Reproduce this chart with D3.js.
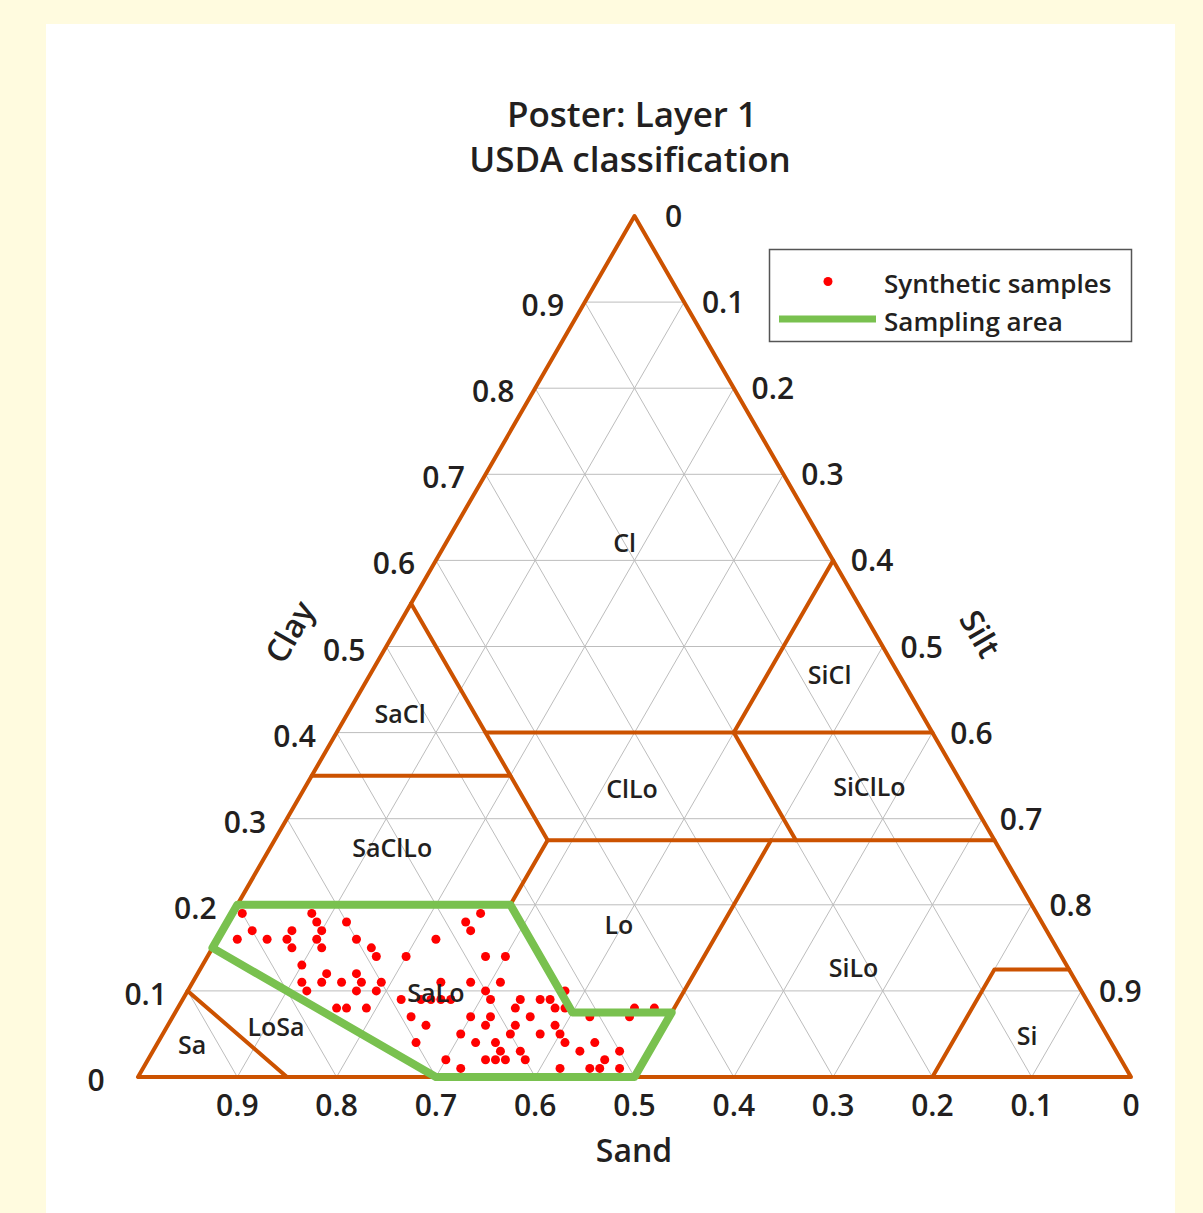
<!DOCTYPE html>
<html>
<head>
<meta charset="utf-8">
<script src="https://cdn.jsdelivr.net/npm/d3@7"></script>
<style>
body { margin: 0; background: #fffbdf; font-family: "Open Sans", sans-serif; }
svg text { font-weight: 600; }
</style>
</head>
<body>
<div id="plot"></div>
<script>
var svgWidth = 1203, svgHeight = 1213;
var triLeft = 138, triRight = 1131, triBottom = 1077, triTop = 216;

// tick values shown on each side
var tickVals = [0, 0.1, 0.2, 0.3, 0.4, 0.5, 0.6, 0.7, 0.8, 0.9];
var gridVals = [0.1, 0.2, 0.3, 0.4, 0.5, 0.6, 0.7, 0.8, 0.9];

// USDA class names and where they are written (sand, silt, clay)
var classNames = ["Cl", "SaCl", "ClLo", "SiCl", "SiClLo", "SaClLo", "Lo", "SiLo", "SaLo", "LoSa", "Sa", "Si"];
var classSand = [0.20, 0.525, 0.335, 0.07, 0.095, 0.611, 0.4275, 0.216, 0.651, 0.832, 0.927, 0.081];
var classSilt = [0.18, 0.053, 0.33, 0.463, 0.568, 0.123, 0.396, 0.657, 0.251, 0.11, 0.036, 0.8715];
var classClay = [0.62, 0.422, 0.335, 0.467, 0.337, 0.266, 0.1765, 0.127, 0.098, 0.058, 0.037, 0.0476];

// class boundaries, each a list of [sand, silt, clay]
var boundaries = [
  [[0.90, 0, 0.10], [0.85, 0.15, 0]],
  [[0.85, 0, 0.15], [0.70, 0.30, 0]],
  [[0.80, 0, 0.20], [0.525, 0.275, 0.20]],
  [[0.525, 0.275, 0.20], [0.525, 0.40, 0.075], [0.425, 0.50, 0.075]],
  [[0.50, 0.50, 0], [0.225, 0.50, 0.275]],
  [[0.65, 0, 0.35], [0.45, 0.20, 0.35]],
  [[0.45, 0.275, 0.275], [0.525, 0.275, 0.20]],
  [[0.45, 0, 0.55], [0.45, 0.275, 0.275]],
  [[0.45, 0.15, 0.40], [0, 0.60, 0.40]],
  [[0.45, 0.275, 0.275], [0, 0.725, 0.275]],
  [[0, 0.40, 0.60], [0.20, 0.40, 0.40]],
  [[0.20, 0.40, 0.40], [0.20, 0.525, 0.275]],
  [[0.20, 0.80, 0], [0.075, 0.80, 0.125], [0, 0.875, 0.125]]
];

// sampling area polygon
var areaSand = [0.80, 0.525, 0.525, 0.425, 0.50, 0.70, 0.85];
var areaSilt = [0, 0.275, 0.40, 0.50, 0.50, 0.30, 0];
var areaClay = [0.20, 0.20, 0.075, 0.075, 0, 0, 0.15];

// synthetic samples, percent
var sampleClay = [19,19,19, 18,18,18, 17,17,17,17, 16,16,16,16,16,16, 15,15,15, 14,14,14,14, 13, 12,12,
  11,11,11,11,11,11,11,11, 10,10,10,10,10, 9,9,9,9,9,9,9,9,9, 8,8,8,8,8,8,8,8,
  7,7,7,7,7,7, 6,6,6,6, 5,5,5,5, 4,4,4,4,4, 3,3,3,3, 2,2,2,2,2,2, 1,1,1,1,1];
var sampleSilt = [1,8,25, 9,12,24, 3,7,10,25, 2,5,7,10,14,22, 8,11,16, 17,20,28,30, 10, 13,16,
  11,13,15,17,19,25,28,31, 12,17,19,30,38, 22,24,25,26,27,31,34,36,37, 16,17,19,34,38,39,46,48,
  24,30,32,36,42,46, 26,32,35,39, 30,35,38,40, 26,32,34,41,44, 35,37,43,47, 30,34,35,36,38,46, 32,42,45,46,48];

var brown = "#cc5200", green = "#79c14f", ink = "#231f20";

var x = d3.scaleLinear().domain([0, 1]).range([triLeft, triRight]);
var y = d3.scaleLinear().domain([0, 1]).range([triBottom, triTop]);

function px(p) { return x(p[1] + p[2] / 2); }
function py(p) { return y(p[2]); }

var line = d3.line().x(px).y(py);

var svg = d3.select('#plot').append('svg')
  .attr('width', svgWidth)
  .attr('height', svgHeight)
  .style('display', 'block');

svg.append('rect')
  .attr('x', 46).attr('y', 24)
  .attr('width', 1129).attr('height', svgHeight - 24)
  .attr('fill', '#ffffff');

// title
svg.append('text').attr('x', 632).attr('y', 127)
  .attr('text-anchor', 'middle').attr('font-size', 35).attr('fill', ink)
  .text('Poster: Layer 1');
svg.append('text').attr('x', 630).attr('y', 172)
  .attr('text-anchor', 'middle').attr('font-size', 35).attr('fill', ink)
  .text('USDA classification');

// grid
var grid = svg.append('g').attr('stroke', '#bdbdbd').attr('stroke-width', 1).attr('fill', 'none');
gridVals.forEach(function(k) {
  grid.append('path').attr('d', line([[1 - k, 0, k], [0, 1 - k, k]]));
  grid.append('path').attr('d', line([[k, 0, 1 - k], [k, 1 - k, 0]]));
  grid.append('path').attr('d', line([[0, k, 1 - k], [1 - k, k, 0]]));
});

// class boundaries
var bnd = svg.append('g').attr('stroke', brown).attr('stroke-width', 4)
  .attr('fill', 'none').attr('stroke-linejoin', 'round').attr('stroke-linecap', 'round');
bnd.selectAll('path').data(boundaries).enter().append('path').attr('d', line);
bnd.append('path').attr('d', line([[1, 0, 0], [0, 1, 0], [0, 0, 1]]) + 'Z');

// samples
svg.append('g').selectAll('circle').data(sampleClay).enter().append('circle')
  .attr('cx', function(c, i) { return px([0, sampleSilt[i] / 100, c / 100]); })
  .attr('cy', function(c) { return py([0, 0, c / 100]); })
  .attr('r', 4.5)
  .attr('fill', '#ff0000');

// sampling area
var area = areaSand.map(function(s, i) { return [s, areaSilt[i], areaClay[i]]; });
svg.append('path').attr('d', line(area) + 'Z')
  .attr('fill', 'none').attr('stroke', green).attr('stroke-width', 8)
  .attr('stroke-linejoin', 'round');

// class labels
svg.append('g').selectAll('text').data(classNames).enter().append('text')
  .attr('x', function(d, i) { return px([classSand[i], classSilt[i], classClay[i]]); })
  .attr('y', function(d, i) { return py([classSand[i], classSilt[i], classClay[i]]) + 9; })
  .attr('text-anchor', 'middle').attr('font-size', 25).attr('fill', ink)
  .text(function(d) { return d; });

// tick labels
var ticks = svg.append('g').attr('font-size', 30).attr('fill', ink).attr('text-anchor', 'middle');
tickVals.forEach(function(k) {
  var lab = k === 0 ? '0' : k;
  // sand (bottom)
  ticks.append('text').attr('x', px([k, 1 - k, 0])).attr('y', triBottom + 39).text(lab);
  // clay (left)
  ticks.append('text').attr('x', px([1 - k, 0, k]) - 42).attr('y', py([1 - k, 0, k]) + 14).text(lab);
  // silt (right)
  ticks.append('text').attr('x', px([0, k, 1 - k]) + 39).attr('y', py([0, k, 1 - k]) + 11).text(lab);
});

// axis titles
svg.append('text').attr('x', 634).attr('y', 1162).attr('text-anchor', 'middle')
  .attr('font-size', 32).attr('fill', ink).text('Sand');
svg.append('text').attr('transform', 'translate(290,632) rotate(-60)').attr('text-anchor', 'middle')
  .attr('dy', '0.35em').attr('font-size', 32).attr('fill', ink).text('Clay');
svg.append('text').attr('transform', 'translate(980,634) rotate(60)').attr('text-anchor', 'middle')
  .attr('dy', '0.35em').attr('font-size', 32).attr('fill', ink).text('Silt');

// legend
var lg = svg.append('g');
lg.append('rect').attr('x', 769.5).attr('y', 249.5).attr('width', 362).attr('height', 92)
  .attr('fill', '#ffffff').attr('stroke', '#555555').attr('stroke-width', 1.5);
lg.append('circle').attr('cx', 828).attr('cy', 281.5).attr('r', 4.5).attr('fill', '#ff0000');
lg.append('line').attr('x1', 779).attr('x2', 876).attr('y1', 319).attr('y2', 319)
  .attr('stroke', green).attr('stroke-width', 7);
lg.append('text').attr('x', 884).attr('y', 293).attr('font-size', 26).attr('fill', ink).text('Synthetic samples');
lg.append('text').attr('x', 884).attr('y', 331).attr('font-size', 26).attr('fill', ink).text('Sampling area');
</script>
</body>
</html>
